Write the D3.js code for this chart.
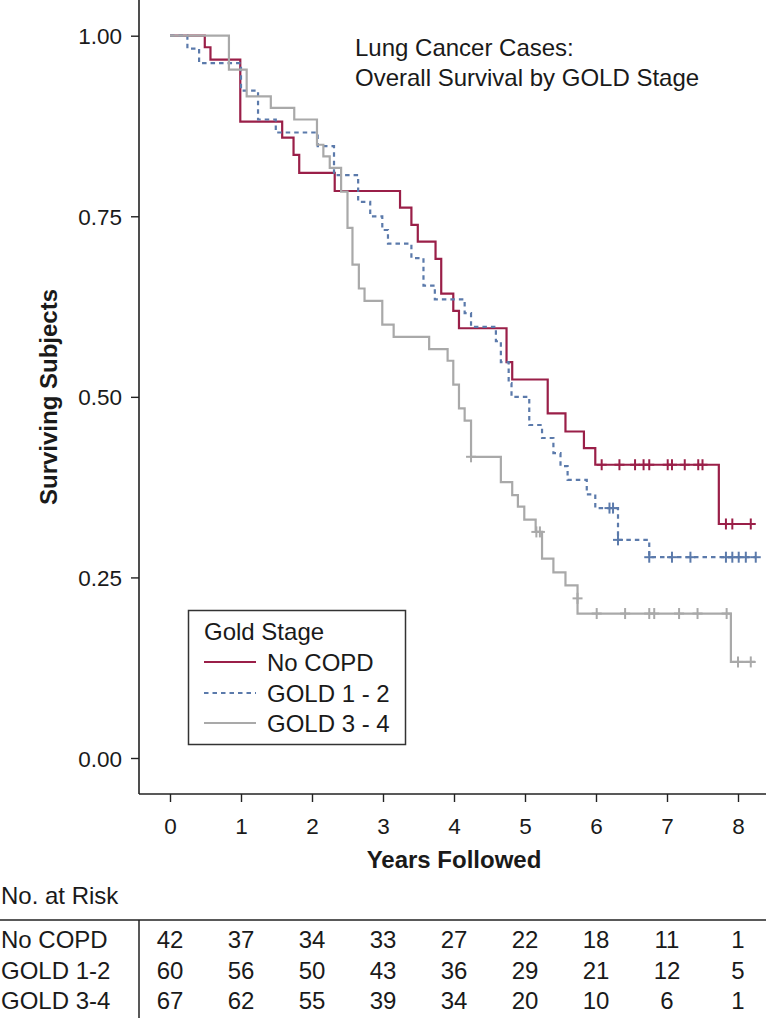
<!DOCTYPE html>
<html><head><meta charset="utf-8">
<script src="https://cdn.jsdelivr.net/npm/d3@7"></script>
<style>
html,body{margin:0;padding:0;background:#fff;}
text{font-family:"Liberation Sans",Arial,Helvetica,sans-serif;fill:#1a1a1a;}
</style></head>
<body>
<svg id="c" width="766" height="1018"></svg>
<script>
// ---- data ----
const groups = ["No COPD", "GOLD 1 - 2", "GOLD 3 - 4"];
const riskLabels = ["No COPD", "GOLD 1-2", "GOLD 3-4"];
const xTicks = [0,1,2,3,4,5,6,7,8];
const yTicks = [0, 0.25, 0.5, 0.75, 1];

// survival steps: [time, survival after drop]
const noCopd = [[0,1],[0.49,0.984],[0.57,0.967],[0.99,0.881],[1.58,0.859],[1.74,0.835],[1.82,0.810],[2.32,0.785],
  [3.24,0.762],[3.40,0.738],[3.49,0.715],[3.74,0.691],[3.82,0.643],[3.99,0.619],[4.07,0.595],[4.74,0.548],[4.82,0.524],
  [5.32,0.477],[5.57,0.452],[5.83,0.429],[5.99,0.406],[7.73,0.324],[8.20,0.324]];
const gold12 = [[0,1],[0.245,0.982],[0.41,0.962],[1.0,0.924],[1.24,0.884],[1.49,0.866],[2.08,0.847],[2.31,0.807],
  [2.65,0.770],[2.82,0.750],[2.99,0.731],[3.07,0.712],[3.40,0.692],[3.57,0.654],[3.73,0.635],[4.15,0.616],[4.24,0.597],
  [4.59,0.577],[4.66,0.548],[4.77,0.519],[4.81,0.500],[5.06,0.461],[5.24,0.443],[5.40,0.422],[5.50,0.404],[5.60,0.385],
  [5.87,0.365],[5.99,0.346],[6.31,0.302],[6.75,0.278],[8.25,0.278]];
const gold34 = [[0,1],[0.83,0.953],[1.08,0.916],[1.42,0.900],[1.75,0.884],[2.07,0.849],[2.16,0.833],[2.25,0.817],
  [2.41,0.784],[2.50,0.734],[2.57,0.683],[2.66,0.650],[2.74,0.633],[2.99,0.600],[3.15,0.583],[3.65,0.566],[3.91,0.550],
  [3.99,0.517],[4.07,0.484],[4.15,0.467],[4.24,0.417],[4.66,0.382],[4.82,0.364],[4.90,0.348],[4.99,0.330],[5.15,0.313],
  [5.24,0.276],[5.40,0.257],[5.57,0.239],[5.74,0.200],[7.90,0.133],[8.24,0.133]];

// censored observations: [time, survival]
const censNoCopd = [[6.08,0.406],[6.33,0.406],[6.55,0.406],[6.67,0.406],[6.75,0.406],[7.01,0.406],[7.07,0.406],
  [7.25,0.406],[7.44,0.406],[7.50,0.406],[7.83,0.324],[7.92,0.324],[8.18,0.324]];
const censGold12 = [[6.19,0.346],[6.24,0.346],[6.31,0.302],[6.75,0.278],[7.07,0.278],[7.33,0.278],[7.83,0.278],
  [7.92,0.278],[8.01,0.278],[8.11,0.278],[8.25,0.278]];
const censGold34 = [[4.24,0.417],[5.16,0.313],[5.21,0.313],[5.74,0.221],[6.01,0.200],[6.41,0.200],[6.75,0.200],
  [6.82,0.200],[7.17,0.200],[7.43,0.200],[7.84,0.200],[8.00,0.133],[8.18,0.133]];

const atRisk = [
  [42,37,34,33,27,22,18,11,1],
  [60,56,50,43,36,29,21,12,5],
  [67,62,55,39,34,20,10,6,1]
];

const title = ["Lung Cancer Cases:", "Overall Survival by GOLD Stage"];

// ---- styles ----
const colors = ["#9a1f48", "#5b7aab", "#a9a9a9"];
const dashes = [null, "4.5,4", null];

const svg = d3.select("#c");
const x = d3.scaleLinear().domain([0,8]).range([170,738]);
const y = d3.scaleLinear().domain([0,1]).range([758,35.7]);

// axes lines
svg.append("line").attr("x1",139).attr("x2",139).attr("y1",0).attr("y2",794).attr("stroke","#222").attr("stroke-width",1.6);
svg.append("line").attr("x1",139).attr("x2",766).attr("y1",794).attr("y2",794).attr("stroke","#222").attr("stroke-width",1.6);

// y axis
const yAxis = svg.append("g").attr("transform","translate(139,0)")
  .call(d3.axisLeft(y).tickValues(yTicks).tickFormat(d3.format(".2f")).tickSize(8).tickPadding(9));
yAxis.select(".domain").remove();
yAxis.selectAll(".tick line").attr("stroke","#222").attr("stroke-width",1.4);
yAxis.selectAll("text").attr("font-size",22.5).attr("font-family","Liberation Sans, Arial, sans-serif").attr("fill","#1a1a1a").attr("dy","0.36em");

// x axis
const xAxis = svg.append("g").attr("transform","translate(0,794)")
  .call(d3.axisBottom(x).tickValues(xTicks).tickFormat(d3.format("d")).tickSize(8).tickPadding(16));
xAxis.select(".domain").remove();
xAxis.selectAll(".tick line").attr("stroke","#222").attr("stroke-width",1.4);
xAxis.selectAll("text").attr("font-size",22.5).attr("font-family","Liberation Sans, Arial, sans-serif").attr("fill","#1a1a1a");

// axis titles
svg.append("text").attr("x",454).attr("y",868).attr("text-anchor","middle")
  .attr("font-size",24).attr("font-weight","bold").text("Years Followed");
svg.append("text").attr("transform","translate(57,397) rotate(-90)").attr("text-anchor","middle")
  .attr("font-size",24).attr("font-weight","bold").text("Surviving Subjects");

// title
svg.append("text").attr("x",355).attr("y",56).attr("font-size",24).text(title[0]);
svg.append("text").attr("x",355).attr("y",86).attr("font-size",24).text(title[1]);

// curves
const line = d3.line().x(d=>x(d[0])).y(d=>y(d[1])).curve(d3.curveStepAfter);
const series = [noCopd, gold12, gold34];
const cens = [censNoCopd, censGold12, censGold34];
series.forEach((s,i)=>{
  svg.append("path").datum(s).attr("d",line).attr("fill","none")
    .attr("stroke",colors[i]).attr("stroke-width",2.2)
    .attr("stroke-dasharray",dashes[i]);
});
cens.forEach((c,i)=>{
  const g = svg.append("g").attr("stroke",colors[i]).attr("stroke-width",2);
  c.forEach(d=>{
    const cx = x(d[0]), cy = y(d[1]);
    g.append("line").attr("x1",cx).attr("x2",cx).attr("y1",cy-5.5).attr("y2",cy+5.5);
    g.append("line").attr("x1",cx-5).attr("x2",cx+5).attr("y1",cy).attr("y2",cy);
  });
});

// legend
const lg = svg.append("g");
lg.append("rect").attr("x",188.5).attr("y",610.5).attr("width",217).attr("height",134)
  .attr("fill","#fff").attr("stroke","#333").attr("stroke-width",1.5);
lg.append("text").attr("x",204).attr("y",640).attr("font-size",24).text("Gold Stage");
const legY = [662, 693, 723];
groups.forEach((gname,i)=>{
  lg.append("line").attr("x1",204).attr("x2",256).attr("y1",legY[i]).attr("y2",legY[i])
    .attr("stroke",colors[i]).attr("stroke-width",2).attr("stroke-dasharray",dashes[i]);
  lg.append("text").attr("x",267).attr("y",legY[i]+8.5).attr("font-size",24).text(gname);
});

// at-risk table
svg.append("text").attr("x",1).attr("y",904).attr("font-size",24).text("No. at Risk");
svg.append("line").attr("x1",0).attr("x2",766).attr("y1",920).attr("y2",920).attr("stroke","#222").attr("stroke-width",1.5);
svg.append("line").attr("x1",139).attr("x2",139).attr("y1",920).attr("y2",1018).attr("stroke","#222").attr("stroke-width",1.5);
const rowY = [948, 979, 1009];
riskLabels.forEach((lab,i)=>{
  svg.append("text").attr("x",1).attr("y",rowY[i]).attr("font-size",24).text(lab);
  svg.append("g").selectAll("text").data(atRisk[i]).join("text")
    .attr("x",(d,j)=>x(xTicks[j])).attr("y",rowY[i]).attr("text-anchor","middle")
    .attr("font-size",24).text(d=>d);
});
</script>
</body></html>
